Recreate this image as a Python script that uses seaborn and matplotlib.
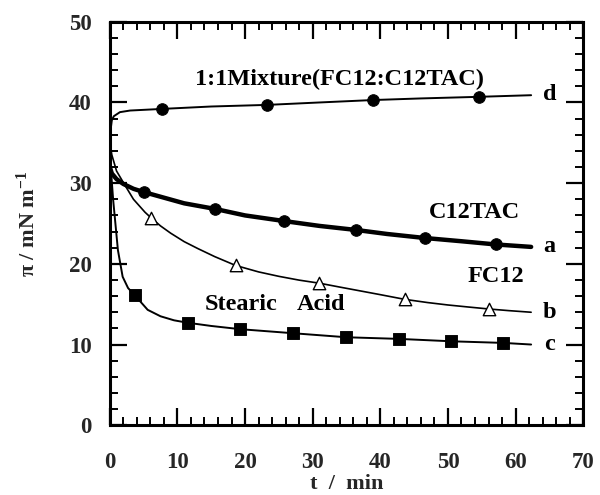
import numpy as np
import pandas as pd
import matplotlib
matplotlib.use("Agg")
import matplotlib.pyplot as plt
import seaborn as sns
from matplotlib.ticker import MultipleLocator

# --- smooth fitted curves (t in min, pi in mN/m) ---
line_d_t = [0, 0.1, 0.3, 0.6, 1.5, 3, 7.7, 15, 23.3, 31, 38.9, 46, 54.6, 62.3]
line_d_y = [34.0, 36.5, 37.8, 38.3, 38.8, 39.0, 39.2, 39.5, 39.7, 40.0, 40.3, 40.5, 40.7, 40.9]

line_a_t = [0, 0.3, 1, 2, 3.5, 5.0, 8, 11, 15.6, 20, 25.8, 31, 36.4, 41, 46.6, 52, 57.1, 62.3]
line_a_y = [32.0, 31.2, 30.5, 29.9, 29.3, 28.9, 28.2, 27.5, 26.8, 26.0, 25.3, 24.7, 24.2, 23.7, 23.2, 22.8, 22.4, 22.1]

line_b_t = [0, 0.3, 1, 2.2, 3.5, 5.2, 6.1, 7.5, 9, 11, 13, 15.5, 18.6, 22, 25, 28,
            31, 34, 37, 40, 43.6, 47, 50, 53, 56.1, 59, 62.3]
line_b_y = [35.0, 33.5, 31.5, 29.8, 28.0, 26.4, 25.7, 24.7, 23.8, 22.75, 21.9, 20.9, 19.8, 19.0,
            18.45, 17.98, 17.6, 17.12, 16.65, 16.18, 15.6, 15.2, 14.9, 14.65, 14.4, 14.2, 14.0]

line_c_t = [0, 0.5, 1.2, 1.9, 2.7, 3.7, 5.6, 7.5, 9.5, 11.5, 15, 19.3, 27.1, 35, 42.7, 50.5, 58.2, 62.3]
line_c_y = [33.5, 27.9, 21.7, 18.4, 17.0, 16.1, 14.3, 13.5, 13.0, 12.7, 12.3, 11.9, 11.4, 10.9, 10.7, 10.4, 10.2, 10.0]

# --- measured points ---
pts_d_t = [7.7, 23.3, 38.9, 54.6]
pts_d_y = [39.2, 39.7, 40.3, 40.7]
pts_a_t = [5.0, 15.6, 25.8, 36.4, 46.6, 57.1]
pts_a_y = [28.9, 26.8, 25.3, 24.2, 23.2, 22.4]
pts_b_t = [6.1, 18.6, 31.0, 43.6, 56.1]
pts_b_y = [25.7, 19.8, 17.6, 15.6, 14.4]
pts_c_t = [3.7, 11.5, 19.3, 27.1, 35.0, 42.7, 50.5, 58.2]
pts_c_y = [16.1, 12.7, 11.9, 11.4, 10.9, 10.7, 10.4, 10.2]

sns.set_theme(style="ticks")
plt.rcParams["font.family"] = ["Liberation Serif", "DejaVu Serif"]
plt.rcParams["font.weight"] = "bold"
plt.rcParams["mathtext.fontset"] = "custom"
plt.rcParams["mathtext.rm"] = "Liberation Serif:bold"
plt.rcParams["mathtext.bf"] = "Liberation Serif:bold"
plt.rcParams["mathtext.default"] = "bf"

fig = plt.figure(figsize=(6.0, 4.95), dpi=100)
ax = fig.add_axes([0.183, 0.141, 0.789, 0.815])

def curve(t, y):
    return pd.DataFrame({"t": t, "pi": y})

sns.lineplot(data=curve(line_d_t, line_d_y), x="t", y="pi", ax=ax, color="black",
             lw=1.4, sort=False, estimator=None)
sns.lineplot(data=curve(line_a_t, line_a_y), x="t", y="pi", ax=ax, color="black",
             lw=3.2, sort=False, estimator=None)
sns.lineplot(data=curve(line_b_t, line_b_y), x="t", y="pi", ax=ax, color="black",
             lw=1.2, sort=False, estimator=None)
sns.lineplot(data=curve(line_c_t, line_c_y), x="t", y="pi", ax=ax, color="black",
             lw=1.4, sort=False, estimator=None)

sns.scatterplot(data=curve(pts_d_t, pts_d_y), x="t", y="pi", ax=ax, marker="o",
                color="black", s=70, edgecolor="black", zorder=5)
sns.scatterplot(data=curve(pts_a_t, pts_a_y), x="t", y="pi", ax=ax, marker="o",
                color="black", s=70, edgecolor="black", zorder=5)
sns.scatterplot(data=curve(pts_b_t, pts_b_y), x="t", y="pi", ax=ax, marker="^",
                facecolor="white", s=80, edgecolor="black", linewidth=1.0, zorder=5)
sns.scatterplot(data=curve(pts_c_t, pts_c_y), x="t", y="pi", ax=ax, marker="s",
                color="black", s=65, edgecolor="black", zorder=5)

ax.set_xlim(0, 70)
ax.set_ylim(0, 50)
ax.xaxis.set_major_locator(MultipleLocator(10))
ax.xaxis.set_minor_locator(MultipleLocator(2))
ax.yaxis.set_major_locator(MultipleLocator(10))
ax.yaxis.set_minor_locator(MultipleLocator(2))

for s in ax.spines.values():
    s.set_visible(True)
    s.set_linewidth(2.2)
    s.set_color("black")

ax.tick_params(which="both", direction="in", top=True, right=True, color="black",
               labelsize=16.5)
ax.tick_params(which="major", length=12, width=1.6)
ax.tick_params(which="minor", length=6, width=1.4)
ax.tick_params(axis="x", which="major", pad=19)
ax.tick_params(axis="y", which="major", pad=13)
for lab in ax.get_xticklabels() + ax.get_yticklabels():
    lab.set_fontweight("bold")

ax.set_xlabel("t  /  min", fontsize=16, fontweight="bold")
ax.set_ylabel(r"π / mN m$^{-1}$", fontsize=16, fontweight="bold")
ax.xaxis.set_label_coords(0.5, -0.122)
ax.yaxis.set_label_coords(-0.148, 0.5)

tk = dict(fontsize=17.5, fontweight="bold", color="black")
ax.text(12.6, 42.8, "1:1Mixture(FC12:C12TAC)", ha="left", va="center", **tk)
ax.text(54.0, 26.4, "C12TAC", ha="center", va="center", **tk)
ax.text(57.1, 18.4, "FC12", ha="center", va="center", **tk)
ax.text(19.4, 14.9, "Stearic", ha="center", va="center", **tk)
ax.text(31.2, 14.9, "Acid", ha="center", va="center", **tk)
ax.text(65.0, 41.0, "d", ha="center", va="center", **tk)
ax.text(65.0, 22.2, "a", ha="center", va="center", **tk)
ax.text(65.0, 14.0, "b", ha="center", va="center", **tk)
ax.text(65.0, 10.0, "c", ha="center", va="center", **tk)

fig.savefig("out.png", dpi=100)
